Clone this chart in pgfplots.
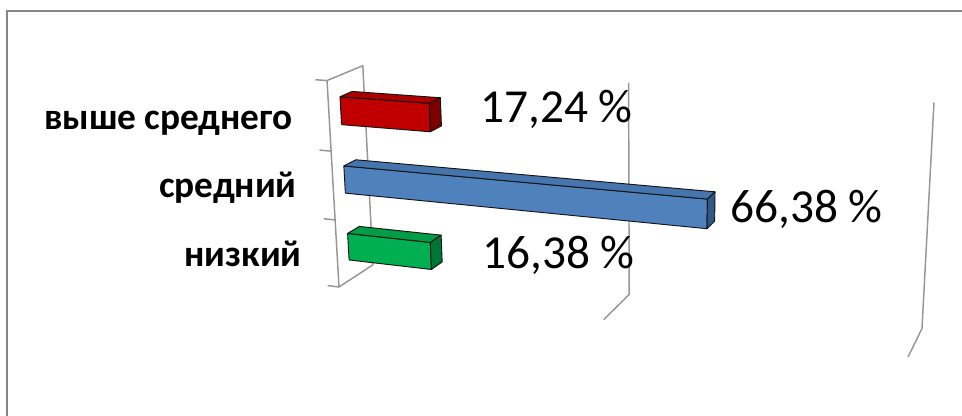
\documentclass[border=0pt]{standalone}
\usepackage{fontspec}
\setmainfont{Carlito}
\usepackage{pgfplots}
\pgfplotsset{compat=1.18}

\definecolor{redF}{RGB}{192,0,0}
\definecolor{redT}{RGB}{172,0,0}
\definecolor{redS}{RGB}{125,0,0}
\definecolor{bluF}{RGB}{79,129,189}
\definecolor{bluT}{RGB}{70,116,172}
\definecolor{bluS}{RGB}{50,86,134}
\definecolor{grnF}{RGB}{0,176,80}
\definecolor{grnT}{RGB}{0,156,70}
\definecolor{grnS}{RGB}{0,118,54}
\definecolor{edge}{RGB}{20,20,20}
\definecolor{gridc}{RGB}{150,150,150}
\definecolor{framec}{RGB}{134,134,134}

% perspective projection of (value 0..100, depth 0 front..1 back, level 0 bottom..3 top)
\pgfmathdeclarefunction{scrx}{3}{\pgfmathparse{(339+4.51*#1+48.9*#2-8.1*#3)/(1-0.0013*#1+0.0399*#2-0.01257*#3)}}
\pgfmathdeclarefunction{scry}{3}{\pgfmathparse{(287+0.236*#1-11.7*#2-69.83*#3)/(1-0.0013*#1+0.0399*#2-0.01257*#3)}}

\pgfplotsset{
  table/persp/.style={
    row sep=\\,
    x expr={scrx(\thisrow{v},\thisrow{d},\thisrow{c})},
    y expr={scry(\thisrow{v},\thisrow{d},\thisrow{c})}},
  wall/.style={draw=gridc, line width=1.1pt, line join=round},
  face/.style={draw=edge, line width=0.7pt, line join=round},
}

% one 3-D bar: #1 value, #2 lower level, #3 upper level, #4 front, #5 top, #6 end colour
\newcommand\cuboid[6]{%
  \addplot[face, fill=#4] table[persp]
    {v d c\\ 0 0.32 #2\\ #1 0.32 #2\\ #1 0.32 #3\\ 0 0.32 #3\\ 0 0.32 #2\\};
  \addplot[face, fill=#5] table[persp]
    {v d c\\ 0 0.32 #3\\ #1 0.32 #3\\ #1 0.66 #3\\ 0 0.66 #3\\ 0 0.32 #3\\};
  \addplot[face, fill=#6] table[persp]
    {v d c\\ #1 0.32 #2\\ #1 0.66 #2\\ #1 0.66 #3\\ #1 0.32 #3\\ #1 0.32 #2\\};
}

\begin{document}
\begin{tikzpicture}
\begin{axis}[
  x=0.75pt, y=0.75pt,
  xmin=0, xmax=962, ymin=0, ymax=416,
  y dir=reverse,
  hide axis, clip=false,
]
  \coordinate (sw) at (axis cs:0,416);
  \coordinate (ne) at (axis cs:962,0);

  % outer frame of the chart area
  \draw[framec, line width=1.2pt] (axis cs:7,416) -- (axis cs:7,11) -- (axis cs:962,11);

  % side wall at zero and category ticks
  \addplot[wall] table[persp] {v d c\\ 0 0 3\\ 0 1 3\\ 0 1 0\\ 0 0 0\\ 0 0 3\\};
  \addplot[wall] table[persp] {v d c\\ -2.3 0 3\\ 0 0 3\\};
  \addplot[wall] table[persp] {v d c\\ -2.3 0 2\\ 0 0 2\\};
  \addplot[wall] table[persp] {v d c\\ -2.3 0 1\\ 0 0 1\\};
  \addplot[wall] table[persp] {v d c\\ -2.3 0 0\\ 0 0 0\\};

  % value gridlines on back wall and floor
  \addplot[wall] table[persp] {v d c\\ 50 1 3\\ 50 1 0\\ 50 0 0\\};
  \addplot[wall] table[persp] {v d c\\ 100 1 3\\ 100 1 0\\ 100 0 0\\};

  % bars
  \cuboid{17.24}{2.3}{2.7}{redF}{redT}{redS}
  \cuboid{66.38}{1.3}{1.7}{bluF}{bluT}{bluS}
  \cuboid{16.38}{0.3}{0.7}{grnF}{grnT}{grnS}

  % category names
  \begin{scope}[every node/.style={anchor=base east, inner sep=0pt, font=\bfseries\fontsize{28}{34}\selectfont}]
    \node at (axis cs:293,130) {выше среднего};
    \node at (axis cs:297,198) {средний};
    \node at (axis cs:302,267) {низкий};
  \end{scope}

  % value labels
  \begin{scope}[every node/.style={anchor=base west, inner sep=0pt, font=\fontsize{35.5}{42}\selectfont}]
    \node at (axis cs:480,123) {17,24 \%};
    \node at (axis cs:730,223) {66,38 \%};
    \node at (axis cs:482,268) {16,38 \%};
  \end{scope}
\end{axis}
\pgfresetboundingbox
\useasboundingbox (sw) rectangle (ne);
\end{tikzpicture}
\end{document}
